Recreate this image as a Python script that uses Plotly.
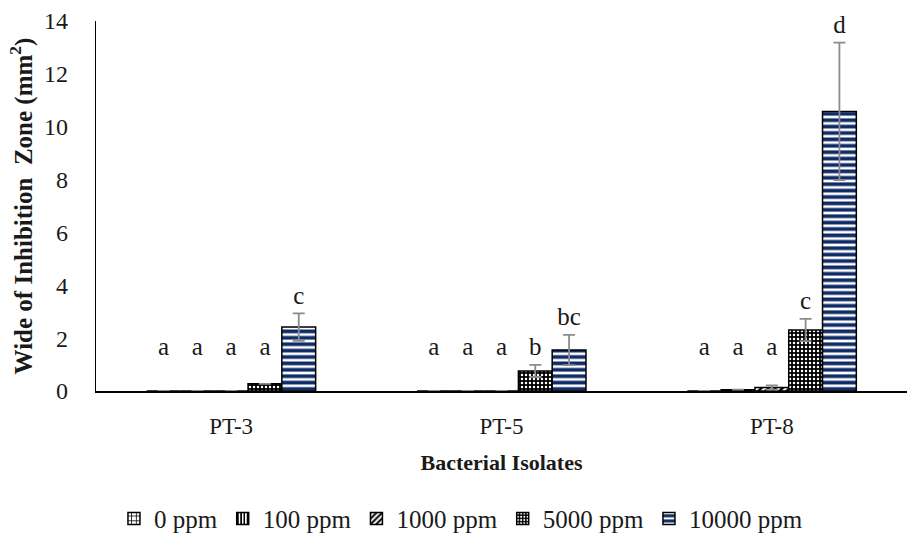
import plotly.graph_objects as go

# Bacterial isolates and treatment concentrations
isolates = ["PT-3", "PT-5", "PT-8"]
concentrations = ["0 ppm", "100 ppm", "1000 ppm", "5000 ppm", "10000 ppm"]

# Mean width of inhibition zone (mm²) per concentration, one value per isolate
zone_0 = [0.0, 0.0, 0.0]
zone_100 = [0.0, 0.0, 0.05]
zone_1000 = [0.0, 0.0, 0.13]
zone_5000 = [0.27, 0.76, 2.31]
zone_10000 = [2.42, 1.55, 10.58]

# Standard deviations
sd_0 = [0.0, 0.0, 0.0]
sd_100 = [0.0, 0.0, 0.0]
sd_1000 = [0.0, 0.0, 0.08]
sd_5000 = [0.0, 0.23, 0.42]
sd_10000 = [0.52, 0.57, 2.6]

# Significance letters
sig_0 = ["a", "a", "a"]
sig_100 = ["a", "a", "a"]
sig_1000 = ["a", "a", "a"]
sig_5000 = ["a", "b", "c"]
sig_10000 = ["c", "bc", "d"]

values = [zone_0, zone_100, zone_1000, zone_5000, zone_10000]
errors = [sd_0, sd_100, sd_1000, sd_5000, sd_10000]
letters = [sig_0, sig_100, sig_1000, sig_5000, sig_10000]

FONT = "Liberation Serif"
INK = "#1a1a1a"
NAVY = "#102c66"

patterns = [
    dict(shape="+", fgcolor="black", bgcolor="white", size=6, solidity=0.3, fillmode="replace"),
    dict(shape="|", fgcolor="black", bgcolor="white", size=4, solidity=0.5, fillmode="replace"),
    dict(shape="/", fgcolor="black", bgcolor="white", size=5, solidity=0.5, fillmode="replace"),
    dict(shape=".", fgcolor="white", bgcolor="black", size=4, solidity=0.3, fillmode="replace"),
    dict(shape="-", fgcolor=NAVY, bgcolor="white", size=6.4, solidity=0.58, fillmode="replace"),
]

bar_w = 0.125  # width of one bar in category units
n = len(concentrations)

fig = go.Figure()
for k, name in enumerate(concentrations):
    xs = [i + (k - (n - 1) / 2) * bar_w for i in range(len(isolates))]
    fig.add_trace(go.Bar(
        x=xs, y=values[k], width=bar_w, name=name,
        marker=dict(color="white", line=dict(color="black", width=1.5),
                    pattern=patterns[k]),
        error_y=dict(type="data", array=errors[k], visible=True,
                     color="#8c8c8c", thickness=1.8, width=6),
    ))
    # letters above the error bars (kept clear of the baseline for tiny bars)
    fig.add_trace(go.Scatter(
        x=xs, y=[max(v + e, 1.0) + 0.6 for v, e in zip(values[k], errors[k])],
        mode="text", text=letters[k], textposition="middle center",
        textfont=dict(family=FONT, size=25, color=INK),
        showlegend=False, hoverinfo="skip", cliponaxis=False,
    ))

fig.update_layout(
    width=909, height=546,
    margin=dict(l=96, r=2, t=21, b=155),
    paper_bgcolor="white", plot_bgcolor="white",
    barmode="overlay",
    font=dict(family=FONT, size=22, color=INK),
    showlegend=True,
    legend=dict(orientation="h", x=0.45, xanchor="center", y=-0.345, yanchor="middle",
                font=dict(family=FONT, size=25, color=INK),
                itemwidth=30, tracegroupgap=0, traceorder="normal"),
    xaxis=dict(
        range=[-0.5, 2.5], tickmode="array", tickvals=[0, 1, 2], ticktext=isolates,
        showline=True, linecolor="black", linewidth=1.5, showgrid=False, zeroline=False,
        ticks="", ticklabelstandoff=14, tickfont=dict(family=FONT, size=23, color=INK),
        title=dict(text="<b>Bacterial Isolates</b>", standoff=16,
                   font=dict(family=FONT, size=22, color=INK)),
    ),
    yaxis=dict(
        range=[0, 14], dtick=2, showline=True, linecolor="black", linewidth=1.2,
        showgrid=False, zeroline=False, ticks="", ticklabelstandoff=22,
        tickfont=dict(family=FONT, size=24, color=INK),
        title=dict(text="<b>Wide of Inhibition  Zone (mm<sup>2</sup>)</b>", standoff=4,
                   font=dict(family=FONT, size=25, color=INK)),
    ),
)

fig.write_html("out.html")
